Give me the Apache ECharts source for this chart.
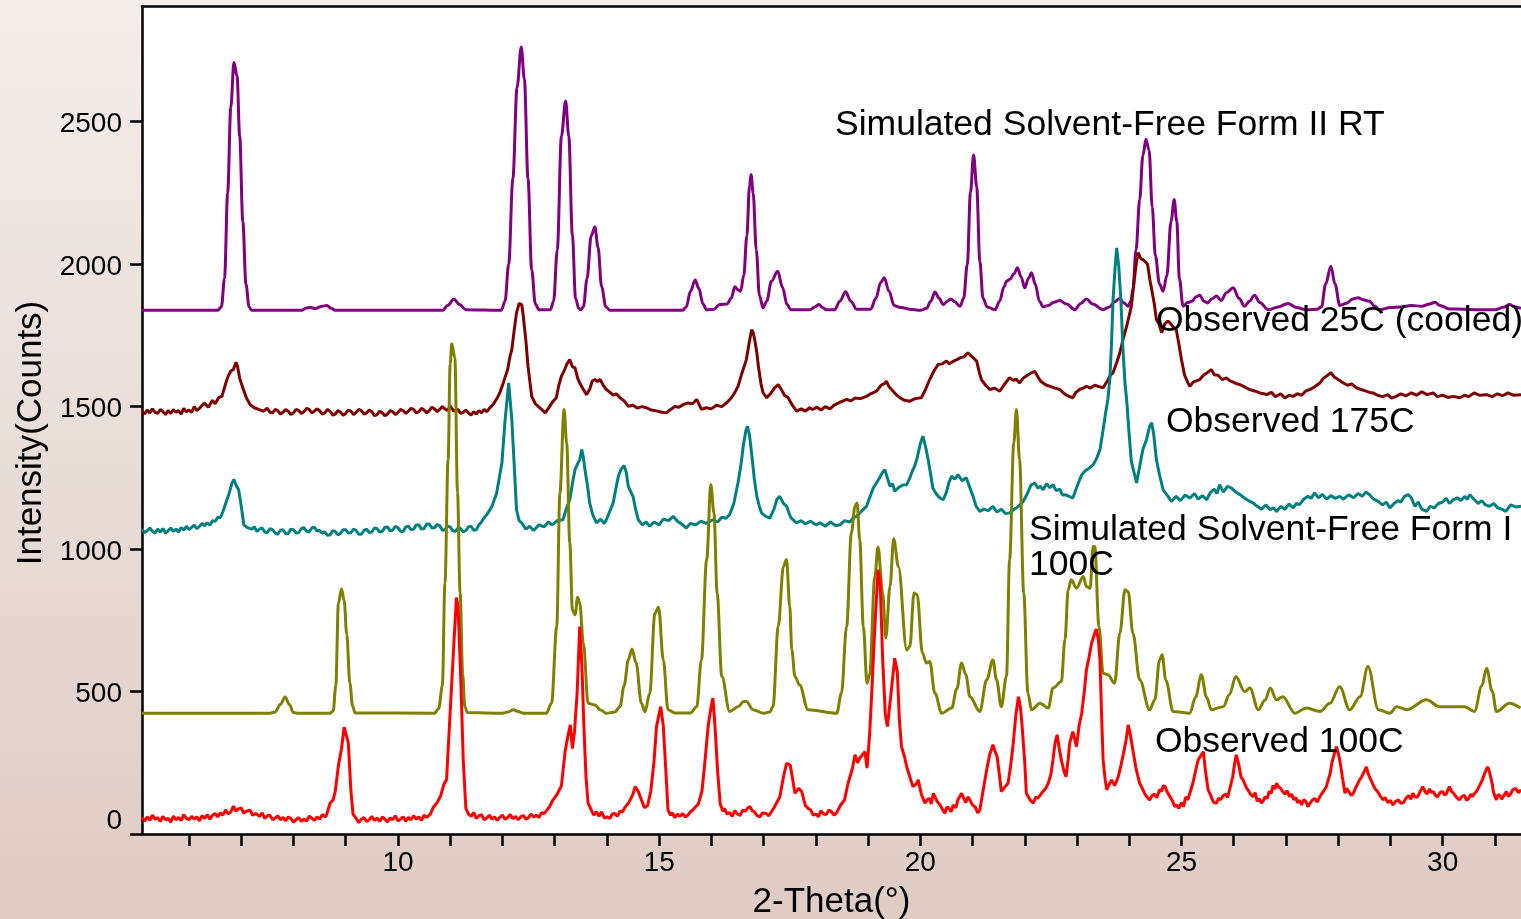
<!DOCTYPE html>
<html>
<head>
<meta charset="utf-8">
<script src="https://cdn.jsdelivr.net/npm/echarts@6/dist/echarts.min.js"></script>
<style>
html,body{margin:0;padding:0;}
#c{width:1521px;height:919px;}
</style>
</head>
<body>
<div id="c"></div>
<script>
// 2-Theta range and ticks
const xRange = [5.1, 31.5];
const yRange = [0, 2906];
const xTickValues = [6,7,8,9,10,11,12,13,14,15,16,17,18,19,20,21,22,23,24,25,26,27,28,29,30,31];
const xLabelValues = [10,15,20,25,30];
const yTickValues = [0,500,1000,1500,2000,2500];

const seriesNames = ['Simulated Solvent-Free Form II RT','Observed 25C (cooled)','Observed 175C','Simulated Solvent-Free Form I 100C','Observed 100C'];

const formIIRT = [[5.1,1838],[6.55,1838],[6.62,1850],[6.68,1950],[6.74,2250],[6.8,2550],[6.86,2708],[6.92,2660],[6.97,2450],[7.03,2150],[7.09,1930],[7.15,1850],[7.2,1838],[8.15,1838],[8.25,1846],[8.32,1848],[8.42,1844],[8.55,1852],[8.64,1855],[8.72,1845],[8.8,1838],[10.86,1838],[10.95,1855],[11.07,1877],[11.18,1858],[11.3,1840],[11.98,1838],[12.05,1870],[12.12,2000],[12.2,2300],[12.28,2620],[12.36,2762],[12.42,2650],[12.49,2300],[12.56,1980],[12.63,1860],[12.7,1840],[12.92,1840],[12.98,1870],[13.05,2050],[13.13,2450],[13.21,2573],[13.27,2450],[13.34,2100],[13.4,1880],[13.46,1845],[13.5,1840],[13.55,1850],[13.62,1950],[13.7,2100],[13.77,2130],[13.83,2060],[13.9,1920],[13.98,1850],[14.06,1838],[15.45,1838],[15.52,1850],[15.6,1905],[15.69,1944],[15.76,1915],[15.84,1860],[15.91,1840],[16.05,1842],[16.16,1858],[16.3,1860],[16.38,1880],[16.45,1921],[16.51,1910],[16.56,1905],[16.62,1960],[16.68,2100],[16.73,2275],[16.76,2315],[16.8,2250],[16.86,2050],[16.92,1890],[16.99,1847],[17.06,1870],[17.15,1940],[17.27,1975],[17.36,1920],[17.45,1858],[17.52,1840],[17.89,1840],[17.98,1850],[18.06,1858],[18.13,1848],[18.2,1840],[18.36,1840],[18.46,1870],[18.57,1903],[18.67,1870],[18.78,1842],[19.05,1842],[19.15,1880],[19.24,1935],[19.31,1952],[19.4,1905],[19.5,1855],[19.6,1849],[19.8,1842],[20.0,1838],[20.12,1845],[20.2,1870],[20.28,1902],[20.36,1880],[20.44,1858],[20.52,1870],[20.58,1878],[20.66,1868],[20.76,1852],[20.83,1880],[20.9,2000],[20.96,2250],[21.02,2383],[21.08,2270],[21.14,2010],[21.2,1880],[21.28,1850],[21.43,1840],[21.52,1870],[21.6,1920],[21.65,1940],[21.72,1948],[21.79,1965],[21.86,1987],[21.93,1955],[22.0,1917],[22.07,1950],[22.13,1970],[22.2,1930],[22.28,1870],[22.35,1850],[22.45,1855],[22.56,1866],[22.67,1872],[22.8,1860],[22.96,1840],[23.07,1862],[23.18,1878],[23.3,1860],[23.5,1840],[23.62,1850],[23.72,1868],[23.81,1879],[23.9,1864],[23.98,1852],[24.03,1870],[24.07,1911],[24.13,2050],[24.2,2227],[24.26,2380],[24.32,2438],[24.38,2400],[24.44,2200],[24.5,2030],[24.58,1930],[24.65,1905],[24.72,1960],[24.8,2150],[24.86,2227],[24.91,2150],[24.96,1950],[25.03,1852],[25.12,1865],[25.2,1870],[25.28,1886],[25.35,1891],[25.43,1870],[25.5,1864],[25.58,1878],[25.67,1888],[25.76,1872],[25.86,1900],[25.99,1917],[26.1,1880],[26.21,1852],[26.3,1870],[26.4,1891],[26.5,1865],[26.66,1840],[26.85,1850],[27.04,1862],[27.2,1848],[27.39,1840],[27.6,1842],[27.68,1850],[27.76,1930],[27.86,1993],[27.94,1930],[28.03,1855],[28.15,1862],[28.28,1878],[28.38,1882],[28.48,1875],[28.6,1870],[28.7,1852],[28.79,1840],[29.0,1848],[29.2,1850],[29.4,1855],[29.6,1852],[29.75,1860],[29.85,1866],[29.95,1855],[30.13,1843],[30.4,1842],[30.7,1840],[31.0,1840],[31.18,1850],[31.28,1858],[31.38,1850],[31.5,1845]];

const obs25C = [[5.1,1484],[5.15,1474],[5.2,1488],[5.25,1478],[5.3,1492],[5.35,1480],[5.4,1476],[5.45,1490],[5.5,1482],[5.55,1472],[5.6,1486],[5.65,1476],[5.7,1490],[5.75,1480],[5.8,1486],[5.85,1474],[5.9,1494],[5.95,1482],[6.0,1488],[6.05,1480],[6.1,1500],[6.15,1486],[6.2,1494],[6.25,1504],[6.3,1512],[6.37,1498],[6.45,1522],[6.5,1510],[6.57,1532],[6.63,1536],[6.7,1580],[6.75,1607],[6.8,1625],[6.85,1630],[6.9,1656],[6.93,1640],[6.97,1600],[7.02,1571],[7.1,1530],[7.17,1507],[7.25,1496],[7.33,1490],[7.42,1484],[7.5,1494],[7.55,1480],[7.6,1478],[7.65,1490],[7.7,1486],[7.75,1474],[7.8,1480],[7.85,1490],[7.9,1484],[7.95,1472],[8.0,1478],[8.05,1490],[8.1,1486],[8.15,1476],[8.2,1482],[8.25,1494],[8.3,1490],[8.35,1478],[8.4,1484],[8.45,1492],[8.5,1486],[8.55,1474],[8.6,1478],[8.65,1490],[8.7,1484],[8.75,1470],[8.8,1474],[8.85,1486],[8.9,1480],[8.95,1470],[9.0,1476],[9.05,1488],[9.1,1484],[9.15,1472],[9.2,1480],[9.25,1490],[9.3,1486],[9.35,1474],[9.4,1478],[9.45,1488],[9.5,1482],[9.55,1468],[9.6,1472],[9.65,1484],[9.7,1478],[9.75,1468],[9.8,1474],[9.85,1486],[9.9,1482],[9.95,1472],[10.0,1480],[10.05,1490],[10.1,1486],[10.15,1476],[10.2,1484],[10.25,1494],[10.3,1490],[10.35,1478],[10.4,1482],[10.45,1494],[10.5,1488],[10.55,1478],[10.6,1486],[10.65,1498],[10.7,1492],[10.75,1482],[10.8,1490],[10.85,1500],[10.9,1492],[10.95,1486],[11.0,1502],[11.07,1484],[11.15,1490],[11.2,1476],[11.25,1480],[11.3,1488],[11.35,1478],[11.4,1470],[11.45,1482],[11.5,1474],[11.55,1486],[11.6,1478],[11.65,1490],[11.7,1482],[11.75,1494],[11.82,1507],[11.9,1530],[11.95,1549],[12.02,1585],[12.1,1630],[12.15,1680],[12.18,1700],[12.22,1760],[12.27,1829],[12.32,1862],[12.37,1858],[12.4,1817],[12.45,1730],[12.49,1642],[12.56,1536],[12.63,1510],[12.7,1498],[12.75,1490],[12.82,1478],[12.88,1494],[12.97,1519],[13.03,1530],[13.08,1575],[13.13,1607],[13.18,1625],[13.23,1648],[13.29,1665],[13.34,1640],[13.39,1636],[13.44,1600],[13.48,1583],[13.55,1560],[13.61,1542],[13.67,1560],[13.72,1590],[13.77,1595],[13.82,1588],[13.87,1595],[13.93,1575],[13.99,1560],[14.06,1550],[14.12,1540],[14.18,1545],[14.25,1531],[14.33,1520],[14.41,1501],[14.5,1505],[14.58,1495],[14.67,1500],[14.76,1496],[14.85,1488],[14.95,1485],[15.05,1480],[15.14,1478],[15.22,1490],[15.3,1500],[15.38,1498],[15.46,1507],[15.55,1513],[15.64,1510],[15.72,1525],[15.81,1490],[15.9,1496],[16.0,1492],[16.1,1505],[16.2,1500],[16.29,1513],[16.38,1530],[16.45,1550],[16.51,1571],[16.59,1620],[16.67,1665],[16.72,1720],[16.77,1770],[16.8,1760],[16.83,1735],[16.87,1690],[16.9,1642],[16.95,1580],[16.99,1548],[17.06,1531],[17.13,1545],[17.21,1566],[17.28,1577],[17.34,1560],[17.4,1540],[17.47,1531],[17.55,1505],[17.63,1484],[17.72,1492],[17.8,1484],[17.88,1496],[17.94,1490],[18.02,1498],[18.1,1488],[18.18,1500],[18.27,1492],[18.35,1505],[18.43,1512],[18.5,1518],[18.59,1525],[18.67,1520],[18.75,1530],[18.85,1528],[18.97,1536],[19.05,1545],[19.16,1554],[19.25,1575],[19.31,1580],[19.35,1589],[19.4,1570],[19.45,1560],[19.54,1542],[19.62,1530],[19.7,1522],[19.8,1519],[19.9,1528],[20.02,1531],[20.1,1560],[20.18,1595],[20.26,1625],[20.34,1648],[20.42,1650],[20.5,1660],[20.56,1650],[20.63,1659],[20.7,1665],[20.77,1672],[20.84,1675],[20.91,1689],[20.96,1680],[21.02,1670],[21.08,1659],[21.13,1620],[21.17,1595],[21.25,1575],[21.33,1560],[21.42,1565],[21.52,1554],[21.6,1575],[21.66,1590],[21.71,1601],[21.78,1592],[21.84,1596],[21.9,1583],[21.97,1600],[22.05,1610],[22.12,1618],[22.19,1624],[22.25,1605],[22.3,1590],[22.35,1583],[22.42,1575],[22.5,1570],[22.58,1565],[22.67,1560],[22.74,1548],[22.8,1540],[22.86,1535],[22.92,1531],[22.98,1550],[23.05,1560],[23.12,1565],[23.18,1571],[23.26,1565],[23.34,1575],[23.42,1570],[23.5,1566],[23.58,1590],[23.64,1610],[23.69,1619],[23.76,1655],[23.82,1689],[23.88,1735],[23.95,1782],[24.0,1820],[24.04,1852],[24.1,1950],[24.14,2010],[24.17,2040],[24.22,2020],[24.26,2016],[24.3,2010],[24.35,2000],[24.4,1940],[24.43,1911],[24.48,1860],[24.52,1806],[24.57,1790],[24.62,1759],[24.68,1790],[24.74,1800],[24.78,1794],[24.84,1780],[24.9,1770],[24.95,1720],[25.0,1665],[25.06,1610],[25.12,1585],[25.16,1571],[25.22,1585],[25.28,1590],[25.35,1595],[25.42,1610],[25.5,1620],[25.57,1630],[25.63,1612],[25.7,1610],[25.78,1595],[25.86,1601],[25.93,1590],[26.0,1585],[26.06,1580],[26.12,1577],[26.2,1570],[26.3,1560],[26.4,1555],[26.5,1548],[26.58,1545],[26.63,1542],[26.72,1550],[26.8,1535],[26.9,1545],[26.98,1530],[27.06,1540],[27.14,1536],[27.22,1545],[27.3,1540],[27.38,1555],[27.46,1560],[27.55,1570],[27.65,1583],[27.72,1600],[27.8,1610],[27.86,1619],[27.92,1605],[28.0,1595],[28.1,1583],[28.18,1575],[28.26,1580],[28.35,1566],[28.44,1560],[28.52,1555],[28.6,1550],[28.67,1548],[28.75,1540],[28.85,1535],[28.95,1542],[29.02,1530],[29.11,1536],[29.2,1545],[29.3,1538],[29.4,1548],[29.5,1540],[29.6,1552],[29.7,1542],[29.82,1548],[29.9,1535],[30.0,1540],[30.1,1532],[30.2,1536],[30.33,1531],[30.42,1540],[30.5,1535],[30.6,1548],[30.7,1540],[30.84,1542],[30.95,1535],[31.05,1545],[31.15,1538],[31.25,1548],[31.35,1540],[31.5,1542]];

const obs175C = [[5.1,1068],[5.15,1058],[5.2,1064],[5.25,1074],[5.3,1062],[5.35,1056],[5.4,1070],[5.45,1060],[5.5,1072],[5.55,1056],[5.6,1064],[5.65,1074],[5.7,1062],[5.75,1070],[5.8,1060],[5.85,1076],[5.9,1066],[5.95,1080],[6.0,1068],[6.05,1076],[6.1,1084],[6.15,1072],[6.2,1080],[6.25,1090],[6.3,1082],[6.35,1092],[6.4,1084],[6.45,1100],[6.5,1097],[6.55,1112],[6.6,1110],[6.65,1132],[6.72,1170],[6.77,1197],[6.82,1230],[6.86,1244],[6.9,1225],[6.95,1208],[7.0,1150],[7.05,1085],[7.12,1075],[7.2,1070],[7.25,1078],[7.3,1062],[7.35,1070],[7.4,1074],[7.45,1060],[7.5,1058],[7.55,1072],[7.6,1068],[7.65,1056],[7.7,1052],[7.75,1066],[7.8,1068],[7.85,1054],[7.9,1055],[7.95,1070],[8.0,1068],[8.05,1056],[8.1,1058],[8.15,1072],[8.2,1075],[8.25,1062],[8.3,1060],[8.35,1074],[8.4,1077],[8.45,1064],[8.5,1065],[8.55,1056],[8.6,1060],[8.65,1048],[8.7,1050],[8.75,1064],[8.8,1062],[8.85,1050],[8.9,1055],[8.95,1068],[9.0,1068],[9.05,1056],[9.1,1058],[9.15,1070],[9.2,1065],[9.25,1052],[9.3,1052],[9.35,1066],[9.4,1070],[9.45,1058],[9.5,1060],[9.55,1074],[9.6,1072],[9.65,1060],[9.7,1062],[9.75,1076],[9.8,1078],[9.85,1064],[9.9,1066],[9.95,1080],[10.0,1075],[10.05,1062],[10.1,1062],[10.15,1078],[10.2,1080],[10.25,1068],[10.3,1070],[10.35,1084],[10.4,1085],[10.45,1070],[10.5,1072],[10.55,1088],[10.6,1088],[10.65,1074],[10.7,1075],[10.75,1086],[10.8,1082],[10.85,1066],[10.9,1068],[10.95,1080],[11.0,1078],[11.05,1064],[11.1,1062],[11.15,1074],[11.2,1072],[11.25,1060],[11.3,1065],[11.35,1078],[11.4,1080],[11.45,1066],[11.5,1068],[11.55,1085],[11.6,1095],[11.65,1110],[11.7,1121],[11.75,1135],[11.8,1150],[11.89,1197],[11.95,1260],[11.99,1302],[12.05,1450],[12.12,1583],[12.18,1454],[12.23,1280],[12.27,1138],[12.32,1100],[12.37,1092],[12.45,1070],[12.52,1080],[12.6,1065],[12.7,1085],[12.8,1078],[12.88,1095],[12.95,1085],[13.05,1100],[13.16,1103],[13.22,1140],[13.29,1173],[13.34,1230],[13.39,1279],[13.44,1300],[13.48,1314],[13.52,1349],[13.55,1320],[13.58,1279],[13.63,1220],[13.67,1162],[13.73,1120],[13.8,1092],[13.88,1105],[13.95,1090],[13.99,1103],[14.05,1130],[14.12,1162],[14.17,1210],[14.22,1256],[14.27,1280],[14.33,1293],[14.37,1270],[14.41,1220],[14.46,1200],[14.5,1185],[14.55,1140],[14.6,1103],[14.68,1085],[14.75,1095],[14.82,1080],[14.9,1095],[15.0,1085],[15.08,1105],[15.18,1100],[15.27,1115],[15.35,1098],[15.43,1088],[15.52,1074],[15.6,1090],[15.7,1085],[15.8,1098],[15.9,1090],[16.03,1103],[16.12,1095],[16.2,1112],[16.28,1108],[16.35,1121],[16.43,1160],[16.51,1232],[16.57,1300],[16.61,1361],[16.66,1415],[16.69,1431],[16.73,1400],[16.77,1337],[16.82,1250],[16.87,1185],[16.92,1150],[16.96,1127],[17.04,1115],[17.12,1109],[17.2,1140],[17.25,1173],[17.31,1185],[17.38,1160],[17.44,1150],[17.52,1110],[17.63,1092],[17.72,1100],[17.8,1088],[17.9,1098],[18.0,1085],[18.08,1092],[18.18,1080],[18.28,1095],[18.38,1082],[18.46,1085],[18.55,1100],[18.65,1095],[18.72,1110],[18.78,1115],[18.86,1130],[18.97,1150],[19.05,1190],[19.1,1215],[19.16,1232],[19.22,1250],[19.28,1270],[19.32,1279],[19.37,1250],[19.42,1220],[19.47,1230],[19.51,1203],[19.58,1215],[19.66,1225],[19.74,1226],[19.8,1250],[19.85,1275],[19.89,1290],[19.94,1320],[20.0,1370],[20.05,1396],[20.1,1360],[20.15,1314],[20.2,1260],[20.24,1214],[20.3,1195],[20.37,1180],[20.44,1173],[20.5,1200],[20.55,1235],[20.6,1256],[20.66,1245],[20.72,1261],[20.8,1240],[20.88,1250],[20.94,1220],[21.01,1185],[21.07,1150],[21.14,1132],[21.22,1140],[21.3,1135],[21.39,1150],[21.47,1130],[21.55,1140],[21.63,1125],[21.71,1127],[21.8,1140],[21.88,1150],[21.97,1167],[22.05,1195],[22.12,1225],[22.19,1232],[22.25,1215],[22.3,1220],[22.35,1208],[22.42,1230],[22.48,1215],[22.54,1226],[22.6,1205],[22.67,1210],[22.72,1190],[22.77,1191],[22.85,1185],[22.92,1179],[23.0,1220],[23.09,1261],[23.16,1275],[23.24,1285],[23.31,1296],[23.38,1320],[23.44,1349],[23.5,1419],[23.55,1480],[23.59,1525],[23.63,1600],[23.66,1720],[23.69,1876],[23.73,1990],[23.76,2057],[23.8,1990],[23.84,1876],[23.88,1700],[23.92,1580],[23.95,1525],[24.0,1400],[24.04,1308],[24.09,1270],[24.14,1232],[24.2,1290],[24.26,1349],[24.33,1384],[24.39,1431],[24.43,1443],[24.47,1400],[24.52,1314],[24.58,1260],[24.65,1208],[24.72,1190],[24.81,1167],[24.9,1185],[24.98,1170],[25.07,1190],[25.16,1179],[25.25,1195],[25.32,1175],[25.4,1188],[25.48,1173],[25.56,1200],[25.63,1210],[25.68,1195],[25.73,1226],[25.8,1200],[25.88,1220],[25.96,1214],[26.04,1200],[26.12,1191],[26.2,1180],[26.28,1170],[26.37,1162],[26.45,1150],[26.53,1140],[26.62,1155],[26.7,1138],[26.76,1145],[26.82,1132],[26.9,1150],[26.98,1140],[27.06,1158],[27.14,1145],[27.2,1160],[27.26,1156],[27.34,1175],[27.42,1185],[27.48,1178],[27.55,1197],[27.62,1180],[27.7,1192],[27.78,1175],[27.86,1188],[27.94,1178],[28.03,1185],[28.1,1175],[28.2,1190],[28.3,1180],[28.38,1195],[28.46,1185],[28.53,1200],[28.6,1191],[28.68,1175],[28.76,1168],[28.85,1155],[28.92,1165],[28.99,1144],[29.07,1160],[29.14,1170],[29.2,1165],[29.27,1185],[29.34,1191],[29.4,1180],[29.47,1150],[29.53,1165],[29.6,1140],[29.69,1132],[29.76,1150],[29.84,1145],[29.92,1160],[30.0,1165],[30.07,1178],[30.13,1160],[30.2,1173],[30.28,1180],[30.35,1170],[30.42,1185],[30.47,1175],[30.52,1191],[30.6,1175],[30.68,1160],[30.75,1170],[30.82,1155],[30.9,1150],[30.98,1160],[31.05,1145],[31.13,1140],[31.21,1132],[31.3,1155],[31.4,1148],[31.5,1150]];

const formI100C = [[5.1,424],[7.55,424],[7.65,428],[7.75,455],[7.84,481],[7.92,455],[8.0,426],[8.1,424],[8.7,424],[8.76,432],[8.81,520],[8.86,810],[8.92,860],[8.97,820],[9.02,700],[9.08,529],[9.13,450],[9.18,425],[10.7,424],[10.78,440],[10.85,520],[10.9,881],[10.96,1314],[11.0,1650],[11.03,1721],[11.09,1671],[11.14,1200],[11.19,847],[11.24,560],[11.28,447],[11.33,426],[12.0,424],[12.1,428],[12.21,436],[12.3,430],[12.4,424],[12.84,424],[12.94,459],[13.04,728],[13.1,1197],[13.18,1490],[13.23,1373],[13.29,1021],[13.34,787],[13.39,769],[13.44,831],[13.48,810],[13.55,670],[13.64,459],[13.77,453],[13.88,435],[13.99,424],[14.15,428],[14.25,447],[14.33,520],[14.41,611],[14.48,649],[14.56,600],[14.66,459],[14.73,429],[14.82,494],[14.92,775],[14.99,796],[15.08,611],[15.17,436],[15.3,425],[15.6,425],[15.72,447],[15.81,611],[15.91,963],[15.99,1226],[16.05,1127],[16.11,846],[16.2,553],[16.35,430],[16.51,447],[16.62,465],[16.67,465],[16.8,436],[17.0,424],[17.12,428],[17.18,447],[17.28,728],[17.38,939],[17.44,963],[17.5,800],[17.54,646],[17.6,553],[17.69,523],[17.85,436],[18.4,424],[18.49,494],[18.59,728],[18.68,1056],[18.75,1150],[18.79,1162],[18.84,1033],[18.91,728],[18.98,529],[19.03,559],[19.13,904],[19.19,1007],[19.28,846],[19.34,688],[19.42,869],[19.49,1036],[19.58,939],[19.74,646],[19.8,658],[19.88,846],[19.94,840],[20.04,635],[20.12,600],[20.18,605],[20.28,494],[20.41,424],[20.6,442],[20.7,510],[20.79,600],[20.87,560],[20.95,482],[21.14,430],[21.27,541],[21.39,611],[21.46,541],[21.55,447],[21.65,553],[21.71,963],[21.79,1373],[21.84,1490],[21.9,1314],[21.98,846],[22.06,494],[22.13,436],[22.29,459],[22.45,442],[22.54,512],[22.7,535],[22.77,682],[22.83,857],[22.89,892],[22.99,863],[23.12,904],[23.18,869],[23.25,862],[23.31,1009],[23.34,1009],[23.42,728],[23.5,564],[23.59,559],[23.72,529],[23.82,705],[23.92,857],[23.98,850],[24.07,705],[24.2,541],[24.39,436],[24.49,471],[24.58,611],[24.63,629],[24.7,540],[24.84,430],[25.16,424],[25.27,480],[25.38,559],[25.48,480],[25.57,436],[25.8,447],[25.92,490],[26.04,553],[26.21,500],[26.31,512],[26.47,436],[26.6,470],[26.7,512],[26.82,471],[26.94,482],[27.17,424],[27.39,442],[27.65,430],[27.84,459],[28.03,517],[28.22,436],[28.42,482],[28.57,588],[28.77,436],[28.99,424],[29.12,447],[29.31,436],[29.69,471],[29.94,447],[30.42,447],[30.61,430],[30.75,520],[30.84,582],[30.95,500],[31.03,430],[31.28,459],[31.49,442]];

const obs100C = [[5.1,58],[5.15,45],[5.2,60],[5.25,48],[5.3,66],[5.35,52],[5.4,58],[5.45,44],[5.5,62],[5.55,50],[5.6,55],[5.65,42],[5.7,63],[5.75,50],[5.8,58],[5.85,47],[5.9,68],[5.95,55],[6.0,50],[6.05,62],[6.1,52],[6.15,60],[6.2,46],[6.25,64],[6.3,55],[6.35,68],[6.4,52],[6.45,66],[6.5,72],[6.55,60],[6.6,74],[6.65,66],[6.7,85],[6.75,70],[6.8,78],[6.85,98],[6.9,80],[6.95,88],[7.0,92],[7.05,72],[7.1,80],[7.17,84],[7.22,66],[7.28,72],[7.35,62],[7.4,74],[7.45,55],[7.5,64],[7.55,66],[7.6,50],[7.65,56],[7.7,64],[7.75,50],[7.8,58],[7.85,46],[7.9,60],[7.95,54],[8.0,42],[8.05,50],[8.1,58],[8.15,44],[8.2,52],[8.25,45],[8.3,62],[8.35,56],[8.4,48],[8.45,60],[8.5,52],[8.55,68],[8.62,60],[8.7,108],[8.76,120],[8.8,150],[8.86,240],[8.92,300],[8.97,375],[9.0,370],[9.05,320],[9.1,150],[9.14,70],[9.2,55],[9.25,40],[9.3,52],[9.35,58],[9.4,44],[9.45,50],[9.5,62],[9.55,48],[9.6,56],[9.65,44],[9.7,60],[9.75,52],[9.8,42],[9.85,56],[9.9,50],[9.95,64],[10.0,46],[10.05,52],[10.1,60],[10.15,45],[10.2,58],[10.25,50],[10.3,64],[10.35,52],[10.4,60],[10.45,48],[10.5,66],[10.55,58],[10.62,70],[10.68,95],[10.75,110],[10.82,135],[10.88,175],[10.93,190],[10.98,360],[11.03,530],[11.08,700],[11.12,830],[11.15,800],[11.2,560],[11.25,260],[11.3,90],[11.35,70],[11.4,62],[11.45,75],[11.5,55],[11.55,64],[11.6,68],[11.65,50],[11.7,56],[11.75,66],[11.8,52],[11.85,60],[11.9,48],[11.95,58],[12.0,66],[12.05,52],[12.1,58],[12.15,68],[12.2,54],[12.25,62],[12.3,50],[12.35,60],[12.4,65],[12.45,52],[12.5,58],[12.55,70],[12.6,60],[12.65,66],[12.7,58],[12.75,75],[12.8,72],[12.9,95],[12.97,120],[13.05,140],[13.13,170],[13.2,290],[13.25,340],[13.3,383],[13.34,300],[13.38,360],[13.43,494],[13.48,728],[13.52,600],[13.56,377],[13.6,200],[13.64,108],[13.7,85],[13.75,66],[13.8,78],[13.85,62],[13.9,78],[13.95,56],[14.0,60],[14.06,55],[14.1,70],[14.15,72],[14.2,62],[14.25,80],[14.3,78],[14.35,95],[14.42,110],[14.5,140],[14.54,166],[14.6,150],[14.66,120],[14.72,92],[14.78,100],[14.84,150],[14.9,250],[14.95,377],[15.03,447],[15.08,380],[15.12,250],[15.17,84],[15.22,66],[15.25,75],[15.3,58],[15.35,70],[15.4,62],[15.45,72],[15.5,60],[15.55,66],[15.6,78],[15.65,85],[15.7,96],[15.75,105],[15.82,150],[15.88,260],[15.94,380],[15.99,440],[16.03,477],[16.07,377],[16.12,220],[16.17,105],[16.22,80],[16.25,90],[16.3,70],[16.35,75],[16.4,62],[16.45,82],[16.5,70],[16.55,65],[16.6,84],[16.65,80],[16.7,92],[16.74,96],[16.78,82],[16.82,78],[16.87,66],[16.93,60],[16.98,74],[17.05,72],[17.1,64],[17.15,78],[17.2,92],[17.25,110],[17.31,130],[17.38,200],[17.44,248],[17.51,242],[17.55,200],[17.6,143],[17.67,160],[17.73,149],[17.8,100],[17.85,90],[17.9,85],[17.95,66],[18.01,70],[18.05,60],[18.1,82],[18.15,70],[18.2,68],[18.25,84],[18.3,78],[18.35,66],[18.4,75],[18.47,100],[18.55,120],[18.62,180],[18.7,230],[18.75,278],[18.8,250],[18.84,266],[18.9,280],[18.94,289],[18.98,231],[19.03,350],[19.07,494],[19.13,728],[19.19,927],[19.23,892],[19.28,611],[19.33,420],[19.37,377],[19.4,383],[19.44,494],[19.51,617],[19.56,570],[19.6,400],[19.64,307],[19.7,270],[19.74,236],[19.8,200],[19.86,166],[19.92,175],[19.96,190],[20.02,140],[20.09,108],[20.13,120],[20.17,125],[20.21,105],[20.25,143],[20.32,115],[20.38,102],[20.43,84],[20.47,73],[20.51,95],[20.55,90],[20.59,78],[20.63,102],[20.68,92],[20.72,120],[20.79,143],[20.84,122],[20.87,110],[20.91,130],[20.95,120],[21.0,102],[21.05,95],[21.1,74],[21.14,84],[21.2,150],[21.27,225],[21.33,280],[21.39,313],[21.43,290],[21.47,272],[21.52,200],[21.55,149],[21.62,165],[21.68,178],[21.73,240],[21.78,319],[21.83,420],[21.88,482],[21.92,440],[21.95,377],[22.0,250],[22.03,143],[22.07,130],[22.1,120],[22.16,108],[22.21,130],[22.25,125],[22.32,143],[22.4,160],[22.45,178],[22.5,210],[22.54,260],[22.58,320],[22.62,348],[22.66,300],[22.7,260],[22.75,220],[22.79,201],[22.83,260],[22.86,319],[22.92,359],[22.96,330],[22.99,307],[23.04,380],[23.09,424],[23.14,500],[23.18,576],[23.23,620],[23.28,670],[23.33,700],[23.37,719],[23.41,680],[23.44,611],[23.47,420],[23.5,260],[23.54,190],[23.57,155],[23.62,175],[23.66,190],[23.72,170],[23.79,201],[23.84,240],[23.89,283],[23.94,330],[23.98,383],[24.02,350],[24.07,295],[24.13,230],[24.2,178],[24.25,160],[24.3,140],[24.35,128],[24.39,119],[24.44,135],[24.48,140],[24.53,128],[24.58,155],[24.62,150],[24.65,170],[24.69,166],[24.72,150],[24.75,140],[24.8,125],[24.83,115],[24.87,96],[24.91,102],[24.95,90],[25.0,110],[25.04,96],[25.08,130],[25.12,120],[25.16,143],[25.22,180],[25.28,230],[25.32,260],[25.37,275],[25.42,289],[25.46,220],[25.51,155],[25.55,140],[25.58,125],[25.62,110],[25.67,108],[25.71,126],[25.75,120],[25.8,135],[25.85,140],[25.88,128],[25.92,155],[25.98,200],[26.02,250],[26.05,278],[26.1,240],[26.14,200],[26.18,190],[26.22,172],[26.25,160],[26.29,150],[26.32,140],[26.37,131],[26.41,145],[26.45,115],[26.49,124],[26.53,108],[26.57,118],[26.6,130],[26.64,124],[26.68,150],[26.72,142],[26.75,170],[26.79,158],[26.82,178],[26.86,165],[26.9,160],[26.94,148],[26.98,140],[27.02,152],[27.07,131],[27.11,140],[27.15,120],[27.19,128],[27.22,110],[27.26,118],[27.3,102],[27.34,120],[27.38,115],[27.42,96],[27.45,105],[27.5,118],[27.55,125],[27.6,112],[27.65,131],[27.68,140],[27.72,150],[27.77,165],[27.81,190],[27.85,215],[27.88,250],[27.91,270],[27.94,290],[27.97,307],[28.0,285],[28.03,260],[28.06,225],[28.08,200],[28.13,143],[28.16,160],[28.2,150],[28.25,135],[28.29,143],[28.33,160],[28.37,175],[28.41,190],[28.45,201],[28.5,220],[28.54,236],[28.57,215],[28.6,200],[28.64,185],[28.67,172],[28.71,158],[28.75,150],[28.8,135],[28.86,120],[28.9,128],[28.95,110],[29.0,118],[29.05,102],[29.1,115],[29.15,120],[29.2,108],[29.25,110],[29.3,126],[29.35,135],[29.39,122],[29.43,143],[29.47,130],[29.52,130],[29.57,150],[29.62,166],[29.66,150],[29.7,140],[29.75,158],[29.78,146],[29.82,149],[29.86,136],[29.9,130],[29.95,145],[30.0,150],[30.03,138],[30.07,140],[30.1,155],[30.13,166],[30.17,150],[30.22,140],[30.27,128],[30.32,120],[30.37,132],[30.42,135],[30.46,118],[30.5,125],[30.54,140],[30.57,131],[30.61,142],[30.65,150],[30.68,160],[30.72,175],[30.76,190],[30.79,205],[30.82,220],[30.86,236],[30.89,222],[30.92,200],[30.95,175],[30.97,150],[31.0,132],[31.03,120],[31.06,138],[31.1,135],[31.13,122],[31.16,125],[31.19,140],[31.22,149],[31.26,132],[31.3,140],[31.34,155],[31.4,160],[31.45,145],[31.5,155]];

const colors = ['#800080','#800000','#008080','#808000','#ff0000'];
const FONT = '"Liberation Sans", Arial, sans-serif';

const chart = echarts.init(document.getElementById('c'), null, {renderer:'canvas'});

function line(name, data, color, smooth){
  return {
    name: name, type: 'line', data: data, showSymbol: false, symbol: 'none',
    smooth: smooth ? 0.35 : false, smoothMonotone: smooth ? 'x' : undefined,
    lineStyle: {color: color, width: 3}, itemStyle: {color: color},
    silent: true, animation: false
  };
}

chart.setOption({
  animation: false,
  backgroundColor: {type:'linear', x:0, y:0, x2:0, y2:1, colorStops:[{offset:0,color:'#f3eeea'},{offset:1,color:'#dfccc4'}]},
  grid: {left:142, top:6, right:0, bottom:85, show:true, backgroundColor:'#ffffff', borderWidth:0, containLabel:false, outerBoundsMode:'none'},
  xAxis: [{
    type:'value', min:xRange[0], max:xRange[1],
    name:'2-Theta(°)', nameLocation:'middle', nameGap:51,
    nameTextStyle:{fontFamily:FONT, fontSize:35, color:'#000'},
    axisLine:{show:true, lineStyle:{color:'#000', width:2.5}},
    axisTick:{show:true, length:12, inside:false, lineStyle:{color:'#000', width:2.5}, customValues:xTickValues},
    axisLabel:{show:true, customValues:xLabelValues, fontFamily:FONT, fontSize:28, color:'#000', margin:15},
    splitLine:{show:false}
  },{
    type:'value', position:'top', min:xRange[0], max:xRange[1],
    axisLine:{show:true, lineStyle:{color:'#000', width:2.5}},
    axisTick:{show:false}, axisLabel:{show:false}, splitLine:{show:false}
  }],
  yAxis: {
    type:'value', min:yRange[0], max:yRange[1],
    name:'Intensity(Counts)', nameLocation:'middle', nameGap:90, nameRotate:90,
    nameTextStyle:{fontFamily:FONT, fontSize:35, color:'#000', padding:[0,26,0,0]},
    axisLine:{show:true, onZero:false, lineStyle:{color:'#000', width:2.5}},
    axisTick:{show:true, length:12, lineStyle:{color:'#000', width:2.5}, customValues:yTickValues},
    axisLabel:{show:true, customValues:yTickValues, fontFamily:FONT, fontSize:28, color:'#000', margin:20,
      formatter: function(v){ return v === 0 ? '{z|0}' : '{n|' + v + '}'; },
      rich:{
        n:{fontFamily:FONT, fontSize:28, color:'#000', padding:[6,0,0,0]},
        z:{fontFamily:FONT, fontSize:28, color:'#000', padding:[0,0,26,0]}
      }},
    splitLine:{show:false}
  },
  series: [
    line(seriesNames[0], formIIRT, colors[0], true),
    line(seriesNames[1], obs25C, colors[1], false),
    line(seriesNames[2], obs175C, colors[2], false),
    line(seriesNames[3], formI100C, colors[3], true),
    line(seriesNames[4], obs100C, colors[4], false)
  ],
  graphic: [
    {type:'text', x:835, y:125, z:100, style:{text:'Simulated Solvent-Free Form II RT', font:'35.5px ' + FONT, fill:'#000', verticalAlign:'middle'}},
    {type:'text', x:1156, y:321, z:100, style:{text:'Observed 25C (cooled)', font:'35.5px ' + FONT, fill:'#000', verticalAlign:'middle'}},
    {type:'text', x:1166, y:422, z:100, style:{text:'Observed 175C', font:'35.5px ' + FONT, fill:'#000', verticalAlign:'middle'}},
    {type:'text', x:1029, y:530, z:100, style:{text:'Simulated Solvent-Free Form I', font:'35.5px ' + FONT, fill:'#000', verticalAlign:'middle'}},
    {type:'text', x:1029, y:565, z:100, style:{text:'100C', font:'35.5px ' + FONT, fill:'#000', verticalAlign:'middle'}},
    {type:'text', x:1155, y:742, z:100, style:{text:'Observed 100C', font:'35.5px ' + FONT, fill:'#000', verticalAlign:'middle'}}
  ]
});
</script>
</body>
</html>
